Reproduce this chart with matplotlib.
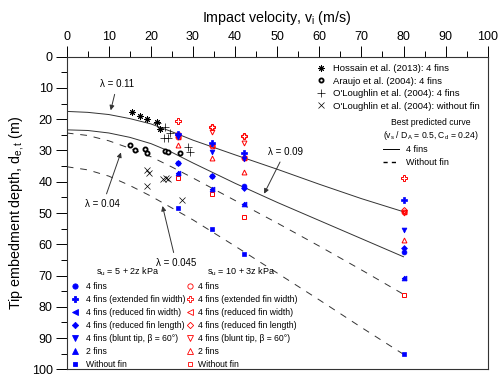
import matplotlib
matplotlib.use('Agg')
import matplotlib.pyplot as plt
from matplotlib.lines import Line2D
import numpy as np

plt.rcParams['font.family'] = ['Liberation Sans', 'DejaVu Sans']
plt.rcParams['mathtext.fontset'] = 'custom'
plt.rcParams['mathtext.rm'] = 'Liberation Sans'
plt.rcParams['mathtext.it'] = 'Liberation Sans:italic'

# ---------------- data ----------------
curve_v = [0, 5, 10, 15, 20, 25, 30, 40, 50, 60, 70, 80]
curve_4fins_011 = [17.5, 17.8, 18.5, 19.8, 21.5, 24.0, 26.7, 31.4, 36.0, 40.8, 45.4, 49.6]
curve_4fins_009 = [23.4, 23.6, 24.4, 25.8, 27.8, 30.6, 34.0, 40.5, 46.6, 52.4, 58.2, 64.0]
curve_nofin_004 = [24.4, 25.2, 26.9, 29.3, 32.0, 35.3, 38.8, 46.0, 53.2, 60.6, 68.2, 76.0]
curve_nofin_0045 = [35.2, 36.2, 38.2, 41.2, 44.6, 48.4, 52.2, 60.6, 69.2, 77.8, 86.6, 95.2]

hossain_v = [15.4, 17.4, 19.1, 21.4, 22.2]
hossain_d = [17.6, 19.0, 19.9, 21.0, 23.2]
araujo_v = [15.0, 16.2, 18.6, 19.1, 23.3, 24.1, 26.9]
araujo_d = [28.3, 29.9, 29.6, 30.9, 30.1, 30.4, 30.9]
olo4_v = [21.4, 23.3, 24.5, 23.0, 24.1, 28.9, 29.3]
olo4_d = [21.3, 22.6, 24.5, 26.1, 26.1, 28.8, 30.4]
olo0_v = [19.0, 19.6, 22.9, 23.6, 24.1, 19.0, 27.3]
olo0_d = [36.3, 37.1, 39.2, 38.9, 39.2, 41.3, 45.8]

v_cols = [26.5, 34.4, 42.1, 80.0]
# s_u = 5 + 2z kPa (blue, filled)
b_4fins = [33.9, 38.1, 41.3, 62.4]
b_ext = [24.8, 27.6, 30.7, 45.9]
b_redw = [37.1, 42.3, 47.1, 70.9]
b_redl = [33.9, 38.1, 42.1, 61.3]
b_blunt = [25.6, 30.4, 32.8, 55.4]
b_2fins = [37.1, 42.3, 47.1, 70.9]
b_nofin = [48.5, 55.1, 63.2, 95.2]
# s_u = 10 + 3z kPa (red, open)
r_4fins = [25.6, 28.5, 32.5, 49.6]
r_ext = [20.5, 22.6, 25.5, 38.9]
r_redw = [25.6, 28.5, 32.5, 49.6]
r_redl = [25.0, 22.6, 25.5, 49.0]
r_blunt = [25.0, 24.0, 27.5, 49.9]
r_2fins = [28.2, 32.5, 36.8, 58.7]
r_nofin = [38.9, 44.0, 51.2, 76.2]

# ---------------- figure ----------------
fig = plt.figure(figsize=(5.0, 3.77), dpi=100)
ax = fig.add_axes([0.1334, 0.0204, 0.842, 0.8292])
ax.set_xlim(0, 100)
ax.set_ylim(100, 0)

lc = '#333333'
ax.plot(curve_v, curve_4fins_011, color=lc, lw=0.7)
ax.plot(curve_v, curve_4fins_009, color=lc, lw=0.7)
ax.plot(curve_v, curve_nofin_004, color=lc, lw=0.7, ls=(0, (7, 7)))
ax.plot(curve_v, curve_nofin_0045, color=lc, lw=0.7, ls=(0, (7, 7)))

blue = '#0000ff'
red = '#ff0000'
ms = 3.5
def bl(v, d, m, s=ms):
    ax.plot(v, d, ls='none', marker=m, ms=s, mfc=blue, mec=blue, mew=0.5)
def rd(v, d, m, s=ms):
    ax.plot(v, d, ls='none', marker=m, ms=s, mfc='none', mec=red, mew=0.7)

rd(v_cols, r_nofin, 's', 3.2)
rd(v_cols, r_2fins, '^')
rd(v_cols, r_blunt, 'v')
rd(v_cols, r_redl, 'D', 3.0)
rd(v_cols, r_redw, '<')
rd(v_cols, r_ext, 'P', 4.0)
rd(v_cols, r_4fins, 'o')
bl(v_cols, b_nofin, 's', 3.2)
bl(v_cols, b_2fins, '^')
bl(v_cols, b_blunt, 'v')
bl(v_cols, b_redl, 'D', 3.0)
bl(v_cols, b_redw, '<')
bl(v_cols, b_ext, 'P', 4.0)
bl(v_cols, b_4fins, 'o')

ax.plot(hossain_v, hossain_d, ls='none', marker=(8, 2, 0), ms=4.5, color='k', mew=0.7)
ax.plot(araujo_v, araujo_d, ls='none', marker='o', ms=3.0, mfc='white', mec='k', mew=1.3)
ax.plot(olo4_v, olo4_d, ls='none', marker='+', ms=5.5, color='k', mew=0.5)
ax.plot(olo0_v, olo0_d, ls='none', marker='x', ms=4, color='k', mew=0.5)

# annotations
ap = dict(arrowstyle='-|>', color='#333333', lw=0.7, mutation_scale=7)
fs_l = 7
ax.annotate('λ = 0.11', xy=(10.3, 18.0), xytext=(12.0, 8.7), fontsize=fs_l,
            ha='center', va='center', arrowprops=ap)
ax.annotate('λ = 0.09', xy=(46.6, 44.6), xytext=(51.9, 30.4), fontsize=fs_l,
            ha='center', va='center', arrowprops=ap)
ax.annotate('λ = 0.04', xy=(13.1, 29.8), xytext=(8.6, 47.2), fontsize=fs_l,
            ha='center', va='center', arrowprops=ap)
ax.annotate('λ = 0.045', xy=(22.6, 46.9), xytext=(26.0, 66.0), fontsize=fs_l,
            ha='center', va='center', arrowprops=ap)

# axes styling
ax.xaxis.set_ticks_position('top')
ax.xaxis.set_label_position('top')
ax.set_xticks(np.arange(0, 101, 10))
ax.set_xticks(np.arange(0, 101, 5), minor=True)
ax.set_yticks(np.arange(0, 101, 10))
ax.set_yticks(np.arange(0, 101, 5), minor=True)
ax.tick_params(which='major', direction='out', length=8, width=0.7, labelsize=9, pad=2)
ax.tick_params(which='minor', direction='out', length=4, width=0.7)
for s in ax.spines.values():
    s.set_linewidth(0.8)
    s.set_color('#333333')
ax.set_xlabel('Impact velocity, v$_\\mathregular{i}$ (m/s)', fontsize=10.3, labelpad=6)
ax.set_ylabel('Tip embedment depth, d$_\\mathregular{e,t}$ (m)', fontsize=10.3, labelpad=4)

# legends
def h(m, fc, ec, s=3.8, mew=0.6):
    return Line2D([], [], ls='none', marker=m, ms=s, mfc=fc, mec=ec, mew=mew)

lit = [Line2D([], [], ls='none', marker=(8, 2, 0), ms=4.5, color='k', mew=0.7),
       Line2D([], [], ls='none', marker='o', ms=3.0, mfc='white', mec='k', mew=1.3),
       Line2D([], [], ls='none', marker='+', ms=5.5, color='k', mew=0.5),
       Line2D([], [], ls='none', marker='x', ms=4, color='k', mew=0.5)]
lit_labels = ['Hossain et al. (2013): 4 fins', 'Araujo et al. (2004): 4 fins',
              "O'Loughlin et al. (2004): 4 fins", "O'Loughlin et al. (2004): without fin"]
leg1 = ax.legend(lit, lit_labels, loc='upper left', bbox_to_anchor=(0.576, 0.998),
                 frameon=False, fontsize=6.8, handlelength=1.2, handletextpad=0.65,
                 labelspacing=0.38, borderpad=0.2)
ax.add_artist(leg1)

crv = [Line2D([], [], color='k', lw=0.7), Line2D([], [], color='k', lw=1.0, ls=(0, (3, 3)))]
leg2 = ax.legend(crv, ['4 fins', 'Without fin'], loc='upper left',
                 bbox_to_anchor=(0.736, 0.824), frameon=False, fontsize=6.5,
                 handlelength=1.8, handletextpad=0.75, labelspacing=0.38,
                 title='Best predicted curve\n(v$_\\mathregular{s}$ / D$_\\mathregular{A}$ = 0.5, C$_\\mathregular{d}$ = 0.24)',
                 title_fontsize=6.2, borderpad=0.2)
leg2._legend_box.align = 'left'
leg2.get_title().set_multialignment('center')
ax.add_artist(leg2)

names = ['4 fins', '4 fins (extended fin width)', '4 fins (reduced fin width)',
         '4 fins (reduced fin length)', '4 fins (blunt tip, β = 60°)', '2 fins', 'Without fin']
mk = ['o', 'P', '<', 'D', 'v', '^', 's']
sz = [3.8, 4.3, 3.8, 3.2, 3.8, 3.8, 3.5]
bh = [h(m, blue, blue, s) for m, s in zip(mk, sz)]
rh = [h(m, 'none', red, s) for m, s in zip(mk, sz)]
leg3 = ax.legend(bh, names, loc='upper left', bbox_to_anchor=(-0.006, 0.350),
                 frameon=False, fontsize=6.25, handlelength=1.0, handletextpad=0.8,
                 labelspacing=0.45, title='s$_\\mathregular{u}$ = 5 + 2z kPa',
                 title_fontsize=6.5, borderpad=0.2)
ax.add_artist(leg3)
leg4 = ax.legend(rh, names, loc='upper left', bbox_to_anchor=(0.267, 0.350),
                 frameon=False, fontsize=6.25, handlelength=1.0, handletextpad=0.5,
                 labelspacing=0.45, title='s$_\\mathregular{u}$ = 10 + 3z kPa',
                 title_fontsize=6.5, borderpad=0.2)

fig.savefig('out.png', dpi=100)
